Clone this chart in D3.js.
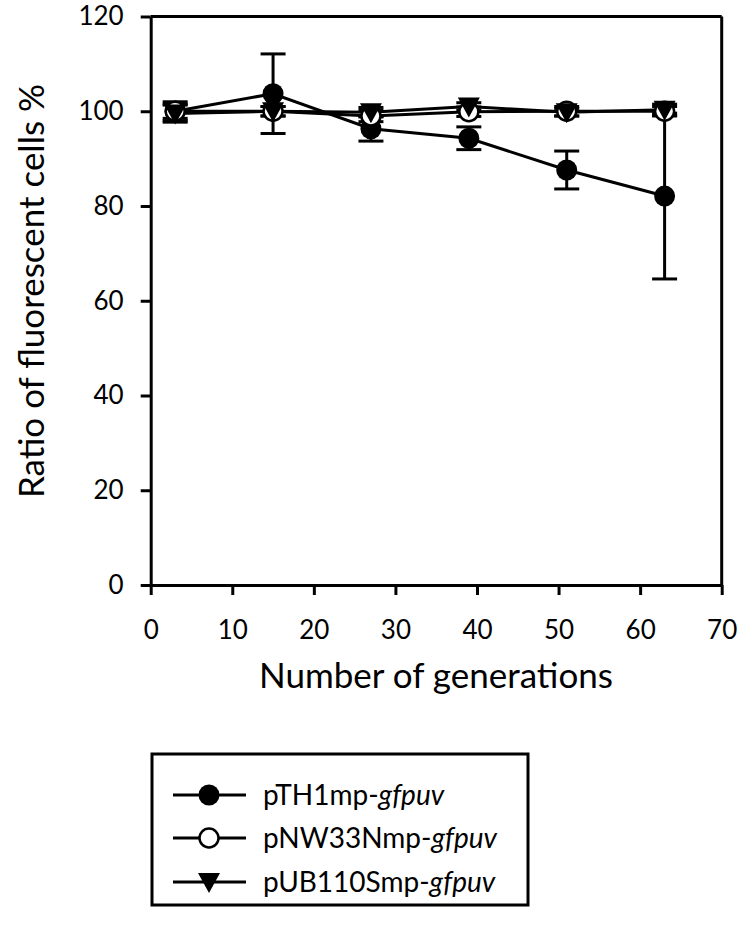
<!DOCTYPE html>
<html><head><meta charset="utf-8">
<script src="https://cdn.jsdelivr.net/npm/d3@7"></script>
<style>body{margin:0;background:#fff}</style>
</head><body>
<svg id="c" width="750" height="933"></svg>
<script>
const generations = [3, 15, 27, 39, 51, 63];
const seriesNames = ["pTH1mp-", "pNW33Nmp-", "pUB110Smp-"];
const seriesItalic = "gfpuv";
const pTH1 = [100, 103.7, 96.3, 94.3, 87.6, 82.1];
const pTH1Err = [2, 8.4, 2.6, 2.4, 4, 17.5];
const pNW33N = [100, 100, 99, 99.9, 100, 100];
const pNW33NErr = [1.5, 1, 1.2, 1, 1, 1];
const pUB110S = [99.5, 100, 99.8, 101, 99.8, 100.3];
const pUB110SErr = [1.8, 1, 1, 0.8, 0.8, 1.2];
const xTicks = [0, 10, 20, 30, 40, 50, 60, 70];
const yTicks = [0, 20, 40, 60, 80, 100, 120];

const svg = d3.select("#c");
const font = "Lato, 'Open Sans', sans-serif";
const x = d3.scaleLinear().domain([0, 70]).range([150.7, 721.7]);
const y = d3.scaleLinear().domain([0, 120]).range([585, 16.5]);
const SW = 3;

svg.append("line").attr("x1", x(0)).attr("x2", x(70)).attr("y1", y(120)).attr("y2", y(120)).attr("stroke", "#000").attr("stroke-width", SW);
svg.append("line").attr("x1", x(70)).attr("x2", x(70)).attr("y1", y(120)).attr("y2", y(0)).attr("stroke", "#000").attr("stroke-width", SW);

const yAxis = svg.append("g").attr("transform", `translate(${x(0)},0)`)
  .call(d3.axisLeft(y).tickValues(yTicks).tickSize(10).tickPadding(17).tickSizeOuter(0));
const xAxis = svg.append("g").attr("transform", `translate(0,${y(0)})`)
  .call(d3.axisBottom(x).tickValues(xTicks).tickSize(10).tickPadding(26).tickSizeOuter(0));
[xAxis, yAxis].forEach(a => {
  a.selectAll("path,line").attr("stroke", "#000").attr("stroke-width", SW);
  a.selectAll("text").attr("font-family", font).attr("font-size", 26).attr("fill", "#000");
});
svg.append("text").attr("x", 436).attr("y", 688).attr("text-anchor", "middle")
  .attr("font-family", font).attr("font-size", 35).text("Number of generations");
svg.append("text").attr("transform", `translate(44,291) rotate(-90)`).attr("text-anchor", "middle")
  .attr("font-family", font).attr("font-size", 35).text("Ratio of fluorescent cells %");

const series = [
  {v: pTH1, e: pTH1Err, sym: "fcircle"},
  {v: pNW33N, e: pNW33NErr, sym: "ocircle"},
  {v: pUB110S, e: pUB110SErr, sym: "tri"}
];
const line = d3.line().x((d, i) => x(generations[i])).y(d => y(d));
const g = svg.append("g");
function drawMarker(sel, sym, cx, cy) {
  if (sym === "fcircle") sel.append("circle").attr("cx", cx).attr("cy", cy).attr("r", 10.5).attr("fill", "#000");
  else if (sym === "ocircle") sel.append("circle").attr("cx", cx).attr("cy", cy).attr("r", 9.5).attr("fill", "#fff").attr("stroke", "#000").attr("stroke-width", 2.5);
  else sel.append("path").attr("d", `M${cx-11},${cy-9}L${cx+11},${cy-9}L${cx},${cy+11}Z`).attr("fill", "#000");
}
series.forEach(s => {
  g.append("path").datum(s.v).attr("d", line).attr("fill", "none").attr("stroke", "#000").attr("stroke-width", SW);
});
series.forEach(s => {
  s.v.forEach((v, i) => {
    const cx = x(generations[i]);
    const e = s.e[i];
    g.append("line").attr("x1", cx).attr("x2", cx).attr("y1", y(v + e)).attr("y2", y(v - e)).attr("stroke", "#000").attr("stroke-width", SW);
    [v + e, v - e].forEach(t => g.append("line").attr("x1", cx - 12.5).attr("x2", cx + 12.5).attr("y1", y(t)).attr("y2", y(t)).attr("stroke", "#000").attr("stroke-width", SW));
  });
});
series.forEach(s => {
  s.v.forEach((v, i) => drawMarker(g, s.sym, x(generations[i]), y(v)));
});

const lg = svg.append("g");
lg.append("rect").attr("x", 152).attr("y", 754).attr("width", 376).attr("height", 151).attr("fill", "#fff").attr("stroke", "#000").attr("stroke-width", SW);
const rows = [795, 838, 882];
series.forEach((s, i) => {
  const ry = rows[i];
  lg.append("line").attr("x1", 173).attr("x2", 246).attr("y1", ry).attr("y2", ry).attr("stroke", "#000").attr("stroke-width", SW);
  drawMarker(lg, s.sym, 209, ry);
  const t = lg.append("text").attr("x", 263).attr("y", ry + 10).attr("font-family", font).attr("font-size", 28);
  t.append("tspan").text(seriesNames[i]);
  t.append("tspan").attr("font-style", "italic").text(seriesItalic);
});
</script>
</body></html>
